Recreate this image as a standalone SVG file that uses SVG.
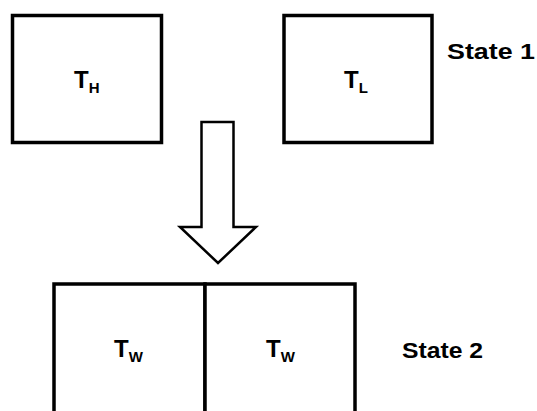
<svg xmlns="http://www.w3.org/2000/svg" width="537" height="411" viewBox="0 0 537 411">
<style>
.box{fill:#fff;stroke:#000;stroke-width:3.5}
.t{font-family:"Liberation Sans",Arial,sans-serif;font-weight:bold;fill:#000}
.main{font-size:24px}
.sub{font-size:15px}
.state{font-size:22px}
</style>
<rect width="537" height="411" fill="#fff"/>
<g id="nodeTH">
<rect class="box" x="12.5" y="15.5" width="149" height="127"/>
<text class="t" x="74" y="88"><tspan class="main">T</tspan><tspan class="sub" dy="5">H</tspan></text>
</g>
<g id="nodeTL">
<rect class="box" x="284" y="15.5" width="148" height="127"/>
<text class="t" x="344" y="88"><tspan class="main">T</tspan><tspan class="sub" dy="5">L</tspan></text>
</g>
<g id="labelState1">
<text class="t state" x="447" y="59" textLength="88" lengthAdjust="spacingAndGlyphs">State 1</text>
</g>
<g id="connectors">
<path d="M201.5,122 L233.5,122 L233.5,227 L256,227 L218,263 L180,227 L201.5,227 Z" fill="#fff" stroke="#000" stroke-width="2.5" stroke-linejoin="miter"/>
</g>
<g id="nodeTW1">
<rect class="box" x="54" y="284" width="151" height="140"/>
<text class="t" x="114" y="357"><tspan class="main">T</tspan><tspan class="sub" dy="5">W</tspan></text>
</g>
<g id="nodeTW2">
<rect class="box" x="205" y="284" width="150" height="140"/>
<text class="t" x="266" y="357"><tspan class="main">T</tspan><tspan class="sub" dy="5">W</tspan></text>
</g>
<g id="labelState2">
<text class="t state" x="402" y="358" textLength="81" lengthAdjust="spacingAndGlyphs">State 2</text>
</g>
</svg>
